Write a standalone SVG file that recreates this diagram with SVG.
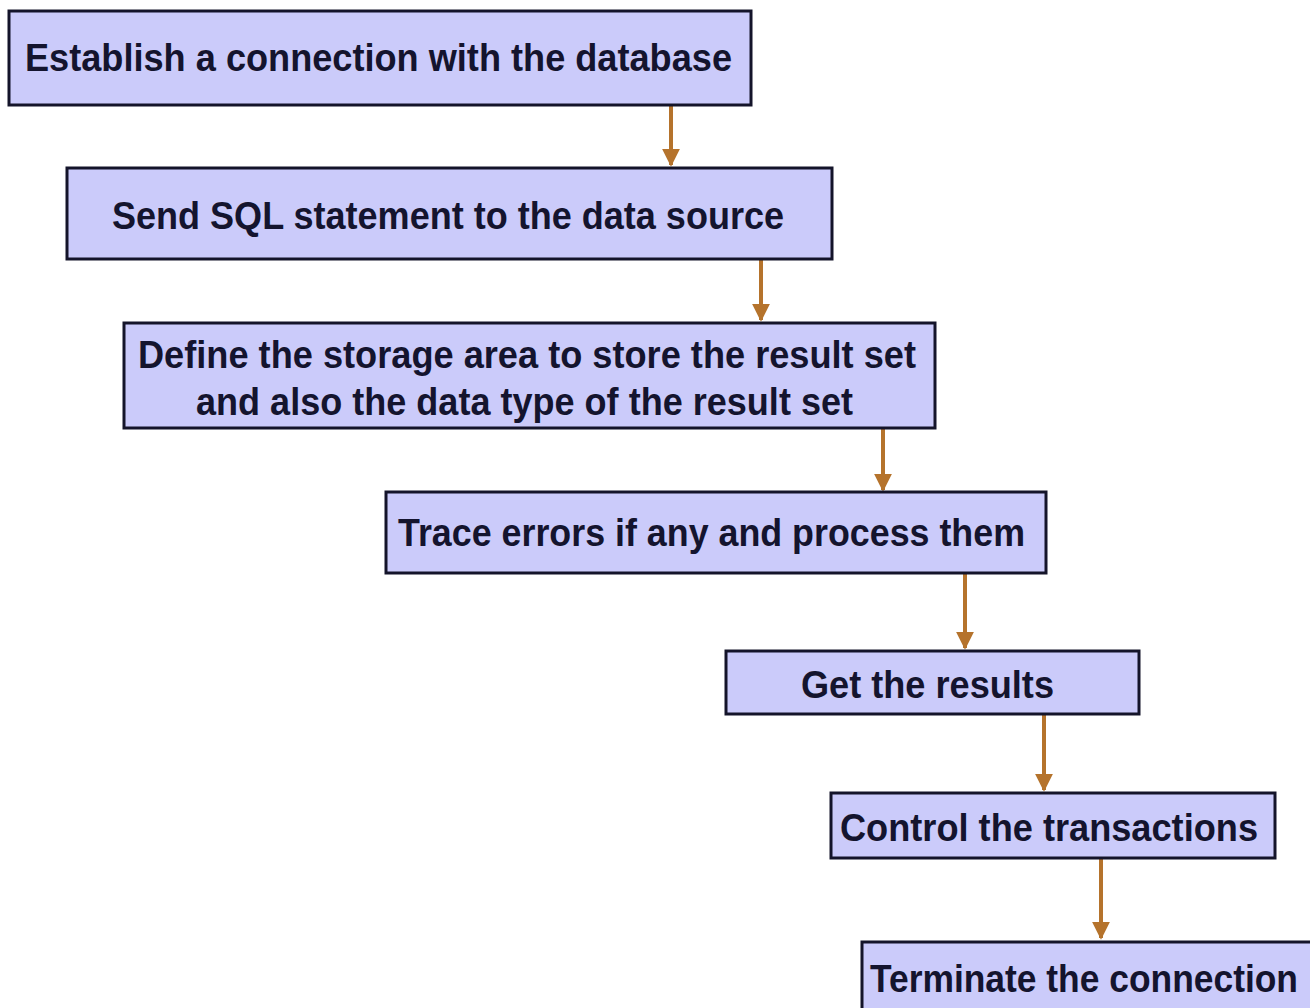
<svg xmlns="http://www.w3.org/2000/svg" width="1310" height="1008" viewBox="0 0 1310 1008">
<defs>
<style>
.box{fill:#CBCBFA;stroke:#14142a;stroke-width:3}
.t{font-family:"Liberation Sans",Arial,sans-serif;font-weight:bold;font-size:38px;fill:#14142e}
.c{stroke:#B5732C;stroke-width:4;fill:none;marker-end:url(#ah)}
</style>
<marker id="ah" viewBox="0 0 10 10" refX="9" refY="5" markerWidth="4.5" markerHeight="4.5" orient="auto" markerUnits="strokeWidth">
<path d="M0,0 L10,5 L0,10 z" fill="#B5732C"/>
</marker>
</defs>
<rect width="1310" height="1008" fill="#ffffff"/>
<g id="connectors">
<line class="c" x1="671" y1="105" x2="671" y2="165"/>
<line class="c" x1="761" y1="259" x2="761" y2="320"/>
<line class="c" x1="883" y1="428" x2="883" y2="490"/>
<line class="c" x1="965" y1="573" x2="965" y2="648"/>
<line class="c" x1="1044" y1="714" x2="1044" y2="790"/>
<line class="c" x1="1101" y1="858" x2="1101" y2="938"/>
</g>
<g id="n1"><rect class="box" x="9" y="11" width="742" height="94"/><text class="t" x="25" y="71" textLength="707" lengthAdjust="spacingAndGlyphs">Establish a connection with the database</text></g>
<g id="n2"><rect class="box" x="67" y="168" width="765" height="91"/><text class="t" x="112" y="229" textLength="672" lengthAdjust="spacingAndGlyphs">Send SQL statement to the data source</text></g>
<g id="n3"><rect class="box" x="124" y="323" width="811" height="105"/><text class="t" x="138" y="368" textLength="778" lengthAdjust="spacingAndGlyphs">Define the storage area to store the result set</text><text class="t" x="196" y="415" textLength="657" lengthAdjust="spacingAndGlyphs">and also the data type of the result set</text></g>
<g id="n4"><rect class="box" x="386" y="492" width="660" height="81"/><text class="t" x="398" y="546" textLength="627" lengthAdjust="spacingAndGlyphs">Trace errors if any and process them</text></g>
<g id="n5"><rect class="box" x="726" y="651" width="413" height="63"/><text class="t" x="801" y="698" textLength="253" lengthAdjust="spacingAndGlyphs">Get the results</text></g>
<g id="n6"><rect class="box" x="831" y="793" width="444" height="65"/><text class="t" x="840" y="841" textLength="418" lengthAdjust="spacingAndGlyphs">Control the transactions</text></g>
<g id="n7"><rect class="box" x="862" y="942" width="460" height="80"/><text class="t" x="870" y="992" font-size="36" textLength="428" lengthAdjust="spacingAndGlyphs">Terminate the connection</text></g>
</svg>
